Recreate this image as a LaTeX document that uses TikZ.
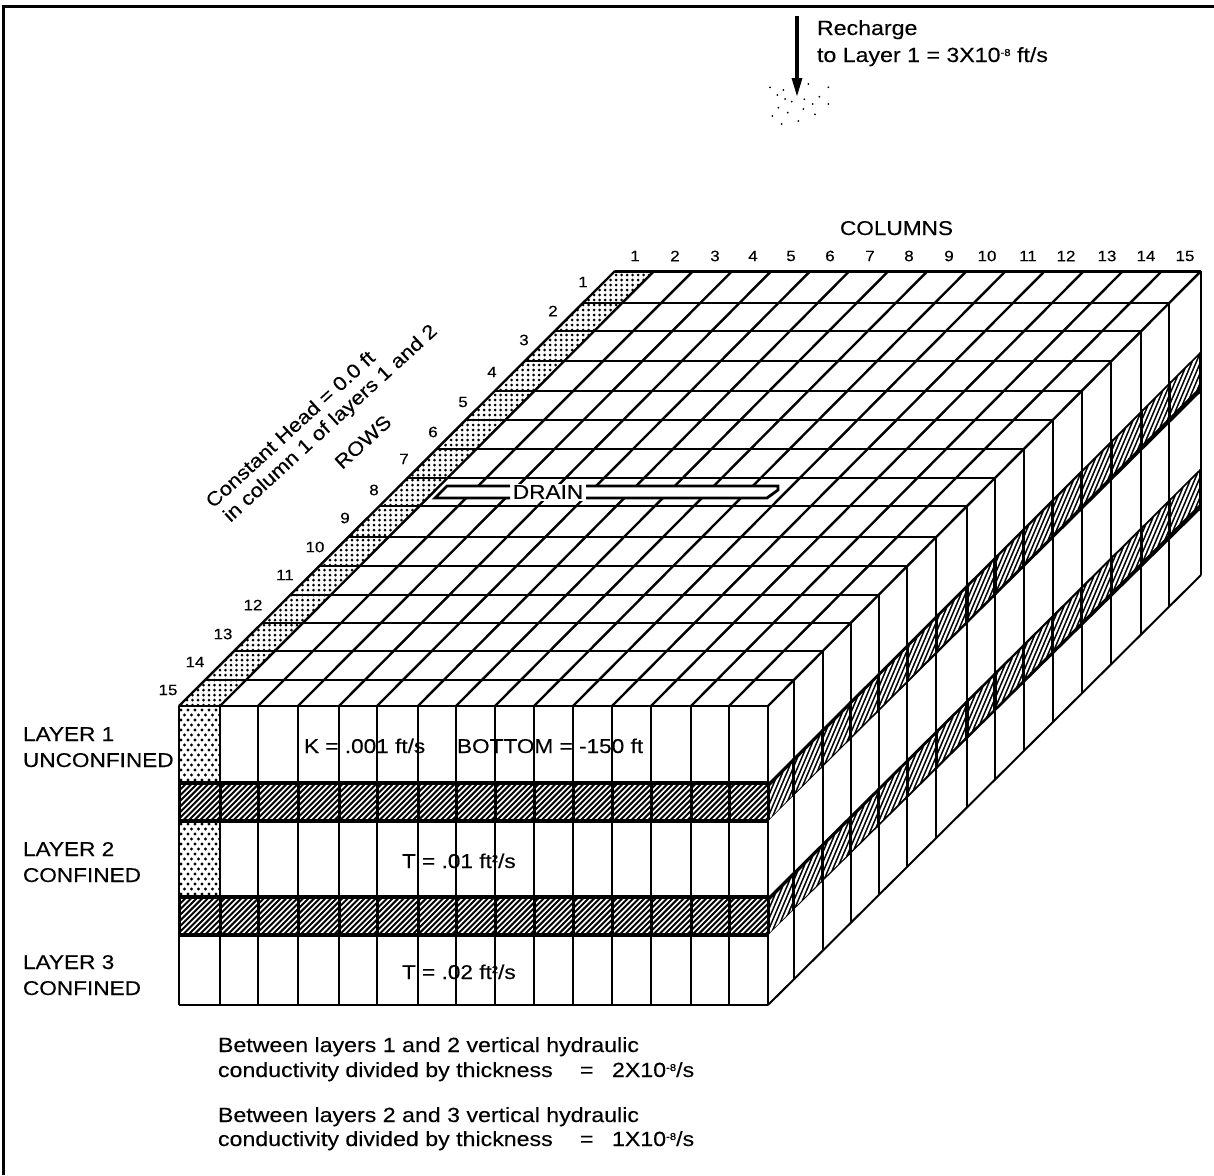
\documentclass[tikz,border=0pt]{standalone}
\usepackage{fontspec}
\setmainfont[FakeStretch=1.13,FakeBold=0.2]{Liberation Sans}
\tikzset{
  gridline/.style={black,line width=2.4pt},
  thinline/.style={black,line width=2pt},
  txt/.style={anchor=base west,inner sep=0pt,outer sep=0pt,font=\fontsize{20}{24}\selectfont,text=black},
  txtb/.style={anchor=base west,inner sep=0pt,outer sep=0pt,font=\fontsize{20.5}{24}\selectfont,text=black},
  num/.style={anchor=center,inner sep=0pt,outer sep=0pt,font=\fontsize{15}{15}\selectfont,text=black},
  rot/.style={anchor=center,inner sep=0pt,outer sep=0pt,font=\fontsize{19.5}{24}\selectfont,text=black,rotate=42.5}
}
\newcommand{\sprs}[1]{\raisebox{6pt}{\fontsize{10}{10}\selectfont #1}}
\begin{document}
\begin{tikzpicture}[x=1pt,y=-1pt]
\useasboundingbox (0,0) rectangle (1214,1175);
\fill[white] (0,0) rectangle (1214,1175);
% frame
\draw[black,line width=3.5pt] (3.5,1175) -- (3.5,6.5) -- (1214,6.5);
% recharge
\coordinate (rtop) at (797,16);
\coordinate (rtip) at (797,96);
\draw[black,line width=3.2pt] (rtop) -- (797,84);
\fill[black] (rtip) -- (791.5,78) -- (802.5,78) -- cycle;
\foreach \dx/\dy in {90/262,130/270,205/252,265/262,112/285,135/297,155/305,193/298,238/290,265/312,218/312,190/327,115/323,143/338,97/348,225/343,125/372,175/363}
  \fill[black] ({740+\dx/3},{\dy/3}) circle (1);
\node[txtb] (rech1) at (817,35) {Recharge};
\node[txtb] (rech2) at (817,62) {to Layer 1 = 3X10\sprs{-8} ft/s};
% top stipple
\begin{scope}
\clip (179,706) -- (615,271) -- (653,271) -- (220,706) -- cycle;
\foreach \j in {0,...,88} {
  \pgfmathsetmacro{\yy}{270+\j*5}
  \pgfmathsetmacro{\xs}{179+(706-\yy)*1.0023}
  \pgfmathsetmacro{\xg}{\xs-mod(\xs,5.5)}
  \foreach \i in {0,...,8}
    \fill[black] ({\xg+\i*5.5},\yy) circle (1.5);
}
\end{scope}
% front stipple
\foreach \ya/\yb in {706/783,820/897} {
\begin{scope}
\clip (179,\ya) rectangle (220,\yb);
\foreach \j in {0,...,16} {
  \pgfmathsetmacro{\yy}{\ya+4+\j*5}
  \pgfmathsetmacro{\xo}{mod(\j,2)*3.5}
  \foreach \i in {0,...,5}
    \fill[black] ({181+\xo+\i*7},\yy) circle (1.6);
}
\end{scope}
}
% front bands
\foreach \ya/\yb in {783/821,897/935} {
\begin{scope}
\clip (179,\ya) rectangle (768,\yb);
\foreach \i in {0,...,115}
  \draw[black,line width=2pt] ({130+\i*5.6},{\yb+2}) -- ({130+\i*5.6+\yb-\ya+4},{\ya-2});
\foreach \x in {179,220,258,298,339,377,418,456,495,534,573,612,651,691,729,768}
  \draw[black,line width=3pt] (\x,\ya) -- (\x,\yb);
\end{scope}
\draw[black,line width=3.4pt] (179,\ya) -- (768,\ya) (179,\yb) -- (768,\yb);
}
% front verticals
\foreach \x in {179,220,258,298,339,377,418,456,495,534,573,612,651,691,729,768}
  \draw[thinline] (\x,706) -- (\x,1005);
\draw[thinline] (179,706) -- (768,706) (179,1005) -- (768,1005);
% side bands
\foreach \fa/\fb/\ba/\bb in {783/821/351/392,897/935/468/509} {
\fill[black] (768,\fa) -- (1201,\ba) -- (1201,\bb) -- (768,\fb) -- cycle;
\begin{scope}
\clip (770,{\fa+3}) -- (1199,{\ba+4.5}) -- (1199,{\bb-4.5}) -- (770,{\fb-3}) -- cycle;
\foreach \i in {-4,...,62} {
  \pgfmathsetmacro{\cx}{768+\i*7.4}
  \pgfmathsetmacro{\cy}{(\fa+\fb)/2-(\cx-768)*0.995}
  \draw[white,line width=2.2pt] ({\cx-17},{\cy+40}) -- ({\cx+17},{\cy-40});
}
\end{scope}
\begin{scope}
\clip (768,\fa) -- (1201,\ba) -- (1201,\bb) -- (768,\fb) -- cycle;
\foreach \y in {271,303,331,361,391,420,449,478,506,537,566,595,623,651,680,706} {
  \pgfmathsetmacro{\xr}{768+(706-\y)*0.9954}
  \draw[black,line width=3.2pt] (\xr,0) -- (\xr,1100);
}
\end{scope}
}
% top grid rows and right side
\foreach \y in {271,303,331,361,391,420,449,478,506,537,566,595,623,651,680,706} {
  \pgfmathsetmacro{\xl}{179+(706-\y)*1.0023}
  \pgfmathsetmacro{\xr}{768+(706-\y)*0.9954}
  \pgfmathsetmacro{\yb}{1005-(\xr-768)*0.9931}
  \draw[gridline] (\xl,\y) -- (\xr,\y);
  \draw[thinline] (\xr,\y) -- (\xr,\yb);
}
% column lines on top
\foreach \xf [count=\k from 0] in {179,220,258,298,339,377,418,456,495,534,573,612,651,691,729,768} {
  \pgfmathsetmacro{\xb}{615+\k*39.07}
  \draw[gridline] (\xf,706) -- (\xb,271);
}
\draw[black,line width=3pt] (615,271) -- (1201,271);
% bottom diagonal
\draw[thinline] (768,1005) -- (1201,575);
% drain
\fill[white] (447,486) -- (778,486) -- (778,490) -- (767,498) -- (435,498) -- cycle;
\fill[white] (510,483.5) rectangle (586,501);
\draw[black,line width=2.8pt] (510,486) -- (447,486) -- (435,498) -- (510,498);
\draw[black,line width=2.8pt] (586,486) -- (778,486) -- (778,490) -- (767,498) -- (586,498);
\node[txt,anchor=center] (drain) at (548,492) {DRAIN};
% labels
\node[txt] (colhead) at (840,235) {COLUMNS};
\foreach \t/\x in {1/635,2/675,3/715,4/753,5/791,6/830,7/870,8/909,9/949,10/987,11/1028,12/1066,13/1107,14/1146,15/1185}
  \node[num] (col\t) at (\x,256) {\t};
\foreach \t/\x/\y in {1/583/282,2/553/311,3/524/340,4/492/372,5/463/402,6/433/432,7/404/459,8/374/490,9/345/518,10/315/547,11/285/575,12/253/605,13/223/634,14/195/662,15/168/690}
  \node[num] (row\t) at (\x,\y) {\t};
\node[rot] (chead) at (290,429) {Constant Head = 0.0 ft};
\node[rot] (ccol) at (331,424) {in column 1 of layers 1 and 2};
\node[rot] (rows) at (363,442) {ROWS};
\node[txt] (l1a) at (23,741) {LAYER 1};
\node[txt] (l1b) at (23,767) {UNCONFINED};
\node[txt] (l2a) at (23,856) {LAYER 2};
\node[txt] (l2b) at (23,882) {CONFINED};
\node[txt] (l3a) at (23,969) {LAYER 3};
\node[txt] (l3b) at (23,995) {CONFINED};
\node[txt] (kval) at (304,753) {K = .001 ft/s};
\node[txt] (bot) at (457,753) {BOTTOM = -150 ft};
\node[txt] (t1) at (402,868) {T = .01 ft\sprs{2}/s};
\node[txt] (t2) at (402,979) {T = .02 ft\sprs{2}/s};
\node[txtb] (b1) at (218,1052) {Between layers 1 and 2 vertical hydraulic};
\node[txtb] (b2) at (218,1077) {conductivity divided by thickness};
\node[txtb] (b2e) at (580,1077) {=};
\node[txtb] (b2v) at (612,1077) {2X10\sprs{-8}/s};
\node[txtb] (b3) at (218,1122) {Between layers 2 and 3 vertical hydraulic};
\node[txtb] (b4) at (218,1146) {conductivity divided by thickness};
\node[txtb] (b4e) at (580,1146) {=};
\node[txtb] (b4v) at (612,1146) {1X10\sprs{-8}/s};
\end{tikzpicture}
\end{document}
